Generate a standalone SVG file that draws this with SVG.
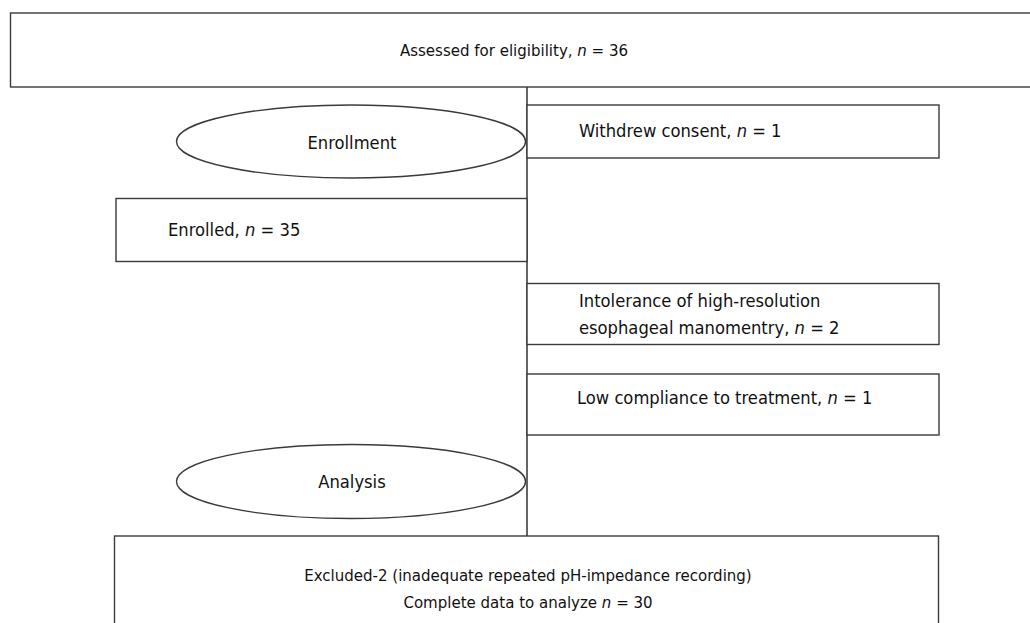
<svg xmlns="http://www.w3.org/2000/svg" width="1030" height="623" viewBox="0 0 1030 623">
<style>
.box{fill:#fff;stroke:#3a3a3a;stroke-width:1.4}
.conn{stroke:#111;stroke-width:1.3;fill:none}
text{font-family:"DejaVu Sans Condensed","DejaVu Sans",sans-serif;font-size:18.2px;fill:#111}
.s{font-size:16.7px}
.c{text-anchor:middle}
</style>
<rect width="1030" height="623" fill="#fff"/>
<g id="connectors">
<line class="conn" x1="527" y1="87" x2="527" y2="536"/>
</g>
<g id="assessed">
<rect class="box" x="10.5" y="13" width="1030" height="74"/>
<text class="c s" x="514" y="56">Assessed for eligibility, <tspan font-style="italic">n</tspan> = 36</text>
</g>
<g id="enrollment">
<ellipse class="box" cx="351" cy="141.5" rx="174.5" ry="36.5"/>
<text class="c" x="352" y="149">Enrollment</text>
</g>
<g id="withdrew">
<rect class="box" x="527" y="105" width="412" height="53"/>
<text x="579" y="137">Withdrew consent, <tspan font-style="italic">n</tspan> = 1</text>
</g>
<g id="enrolled">
<rect class="box" x="116" y="198.5" width="411" height="63"/>
<text x="168" y="236">Enrolled, <tspan font-style="italic">n</tspan> = 35</text>
</g>
<g id="intolerance">
<rect class="box" x="527" y="283.5" width="412" height="61"/>
<text x="579" y="307">Intolerance of high-resolution</text>
<text x="579" y="333.5">esophageal manomentry, <tspan font-style="italic">n</tspan> = 2</text>
</g>
<g id="lowcompliance">
<rect class="box" x="527" y="374" width="412" height="61"/>
<text x="577" y="404">Low compliance to treatment, <tspan font-style="italic">n</tspan> = 1</text>
</g>
<g id="analysis">
<ellipse class="box" cx="351" cy="481.5" rx="174.5" ry="37"/>
<text class="c" x="352" y="488">Analysis</text>
</g>
<g id="excluded">
<rect class="box" x="114.5" y="536" width="824" height="100"/>
<text class="c s" x="528" y="581">Excluded-2 (inadequate repeated pH-impedance recording)</text>
<text class="c s" x="528" y="608">Complete data to analyze <tspan font-style="italic">n</tspan> = 30</text>
</g>
</svg>
